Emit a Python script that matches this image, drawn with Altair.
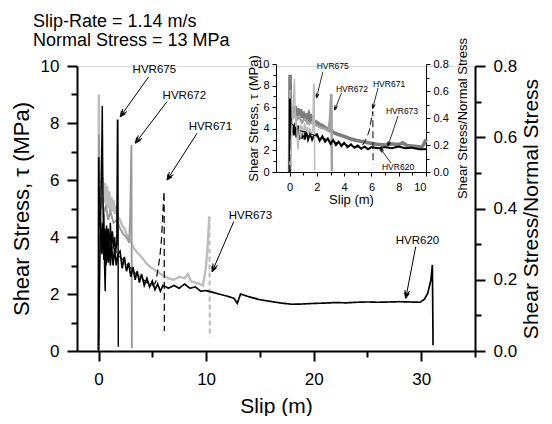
import math
import altair as alt
import pandas as pd

# ---------------- data ----------------
hvr673_x = [0.0, 0.03, 0.06, 0.12, 0.2, 0.3, 0.4, 0.5, 0.6, 0.7, 0.8, 0.9, 1.0, 1.1, 1.2, 1.3,
            1.4, 1.5, 1.6, 1.8, 2.0, 2.2, 2.4, 2.6, 2.8, 3.0, 3.3, 3.6, 4.0, 4.4, 4.8, 5.2, 5.6,
            6.0, 6.5, 7.0, 7.5, 8.0, 8.3, 8.6, 9.0, 9.4, 9.7, 9.85, 10.0, 10.15, 10.3]
hvr673_y = [0.0, 9.0, 6.2, 5.6, 6.0, 5.3, 6.1, 5.2, 5.9, 5.1, 5.8, 5.0, 5.6, 4.9, 5.4, 4.9,
            5.3, 4.8, 5.1, 4.7, 4.6, 4.4, 4.3, 4.1, 4.0, 3.85, 3.6, 3.45, 3.3, 3.1, 2.95, 2.85, 2.75,
            2.65, 2.55, 2.5, 2.6, 2.55, 2.7, 2.45, 2.4, 2.35, 2.3, 2.6, 3.0, 3.7, 4.72]
hvr673_drop_x = [10.3, 10.35]
hvr673_drop_y = [4.72, 0.5]

hvr672_x = [0.0, 0.04, 0.1, 0.2, 0.35, 0.5, 0.7, 0.9, 1.1, 1.4, 1.7, 2.0, 2.3, 2.6, 2.85, 2.95,
            3.02, 3.06, 3.1]
hvr672_y = [0.0, 7.6, 5.5, 5.0, 5.4, 4.8, 5.1, 4.6, 4.9, 4.5, 4.6, 4.3, 4.1, 4.0, 3.8, 4.8,
            6.5, 7.23, 0.1]

hvr620_x = [0.0, 0.02, 0.06, 0.1, 0.2, 0.3, 0.4, 0.5, 0.6, 0.7, 0.8, 0.9, 1.0, 1.1, 1.2, 1.35,
            1.5, 1.65, 1.8, 2.0, 2.2, 2.4, 2.6, 2.8, 3.0, 3.2, 3.4, 3.6, 3.8, 4.0, 4.25, 4.5,
            4.75, 5.0, 5.25, 5.5, 5.75, 6.0, 6.5, 7.0, 7.5, 8.0, 8.5, 9.0, 9.5, 10.0, 11.0,
            12.0, 12.6, 12.9, 13.2, 14.0, 15.0, 16.0, 17.0, 18.0, 19.0, 20.0, 21.0, 22.0, 23.0,
            24.0, 25.0, 26.0, 27.0, 28.0, 29.0, 29.9, 30.3, 30.6, 30.9, 31.04, 31.1]
hvr620_y = [0.0, 6.8, 4.6, 4.9, 4.4, 3.4, 4.5, 3.2, 4.3, 3.0, 4.1, 3.1, 3.9, 3.0, 3.8, 3.0,
            3.6, 3.0, 3.4, 3.5, 2.9, 3.3, 2.8, 3.1, 2.6, 2.95, 2.5, 2.8, 2.4, 2.7, 2.3, 2.55,
            2.25, 2.45, 2.15, 2.35, 2.1, 2.3, 2.2, 2.3, 2.2, 2.35, 2.2, 2.25, 2.1, 2.12, 2.02,
            1.92, 1.85, 1.67, 2.0, 1.9, 1.8, 1.74, 1.68, 1.64, 1.65, 1.67, 1.68, 1.7, 1.69,
            1.71, 1.72, 1.71, 1.72, 1.73, 1.72, 1.71, 1.82, 2.02, 2.49, 3.02, 0.2]

hvr675_x = [0.0, 0.3, 0.35, 0.4, 0.45, 0.5, 0.56, 0.62, 0.68, 0.75, 0.82, 0.9, 1.0, 1.1, 1.2,
            1.3, 1.4, 1.5, 1.6, 1.7, 1.76, 1.8, 1.84]
hvr675_y = [0.2, 7.0, 8.6, 6.0, 4.2, 4.8, 3.0, 2.1, 3.6, 4.4, 3.2, 4.3, 3.4, 4.5, 3.7,
            4.2, 3.6, 4.0, 3.5, 3.8, 8.1, 8.1, 0.15]

hvr671_x = [0.0, 0.03, 0.1, 0.25, 0.5, 0.8, 1.2, 1.6, 2.0, 2.5, 3.0, 3.5, 4.0, 4.5, 5.0, 5.3,
            5.5, 5.7, 5.85, 5.95, 6.05, 6.1, 6.12]
hvr671_y = [0.0, 5.8, 4.6, 4.3, 4.0, 3.8, 3.7, 3.5, 3.3, 3.1, 2.9, 2.7, 2.55, 2.4, 2.3, 2.4,
            2.8, 3.3, 3.9, 4.6, 5.3, 5.6, 0.7]

# keys (drawing order) and styles
keys = ["HVR673", "HVR673 drop", "HVR672", "HVR620", "HVR675", "HVR671"]
main_colors = ["#bdbdbd", "#bdbdbd", "#9a9a9a", "#000000", "#000000", "#000000"]
main_dash = [[1, 0], [5, 3], [1, 0], [1, 0], [1, 0], [7, 4]]
main_width = [2.4, 1.2, 1.3, 3.2, 1.5, 1.5]
inset_colors = ["#7d7d7d", "#7d7d7d", "#a2a2a2", "#000000", "#bcbcbc", "#000000"]
inset_width = [3.6, 1.0, 1.2, 3.0, 1.3, 1.3]

# annotations (data units of each panel)
ann_labels = ["HVR675", "HVR672", "HVR671", "HVR673", "HVR620"]
ann_tx = [5.19, 7.98, 10.4, 14.12, 29.65]
ann_ty = [9.86, 8.95, 7.86, 4.74, 3.86]
ann_x1 = [4.66, 6.37, 9.16, 12.57, 29.49]
ann_y1 = [9.62, 8.75, 7.64, 4.54, 3.66]
ann_x2 = [2.02, 3.42, 6.37, 10.56, 28.56]
ann_y2 = [8.22, 7.29, 6.0, 2.78, 1.85]

ins_tx = [3.16, 4.57, 7.29, 8.24, 7.95]
ins_ty = [9.81, 7.69, 8.15, 5.65, 0.46]
ins_x1 = [2.43, 3.8, 6.48, 7.95, 7.43]
ins_y1 = [9.26, 7.31, 7.78, 5.19, 0.83]
ins_x2 = [1.97, 3.3, 6.09, 7.21, 6.63]
ins_y2 = [6.85, 5.74, 5.88, 2.41, 2.22]

title_lines = ["Slip-Rate = 1.14 m/s", "Normal Stress = 13 MPa"]
stress_ticks = list(range(0, 11))
ratio_ticks = [0.0, 0.1, 0.2, 0.3, 0.4, 0.5, 0.6, 0.7, 0.8]
slip_ticks_main = [0, 5, 10, 15, 20, 25, 30, 35]
slip_ticks_inset = list(range(0, 11))

# ---------------- layout ----------------
W, H = 398, 285
INS_X = [199, 349]      # inset x range (pixels in plot)
INS_Y = [106, -2]       # inset y range
FONT = "Liberation Sans"

series = [("HVR673", hvr673_x, hvr673_y), ("HVR673 drop", hvr673_drop_x, hvr673_drop_y),
          ("HVR672", hvr672_x, hvr672_y), ("HVR620", hvr620_x, hvr620_y),
          ("HVR675", hvr675_x, hvr675_y), ("HVR671", hvr671_x, hvr671_y)]
rows = []
for k, xs, ys in series:
    for i, (x, y) in enumerate(zip(xs, ys)):
        rows.append({"key": k, "i": i, "x": x, "y": y})
curves = pd.DataFrame(rows)


def angles(x1, y1, x2, y2, sx, sy):
    out = []
    for a, b, c, d in zip(x1, y1, x2, y2):
        out.append(math.degrees(math.atan2(-(d - b) * sy, (c - a) * sx)) % 360)
    return out


ann = pd.DataFrame({"label": ann_labels, "tx": ann_tx, "ty": ann_ty, "x1": ann_x1,
                    "y1": ann_y1, "x2": ann_x2, "y2": ann_y2,
                    "ang": angles(ann_x1, ann_y1, ann_x2, ann_y2, W / 37.0, H / 10.0)})
ins = pd.DataFrame({"label": ann_labels, "tx": ins_tx, "ty": ins_ty, "x1": ins_x1,
                    "y1": ins_y1, "x2": ins_x2, "y2": ins_y2,
                    "ang": angles(ins_x1, ins_y1, ins_x2, ins_y2, 150 / 11.0, 108 / 10.0)})


def mx():
    return alt.Scale(domain=[-2, 35], nice=False, zero=False)


def my():
    return alt.Scale(domain=[0, 10], nice=False, zero=False)


def ix():
    return alt.Scale(domain=[-1, 10], nice=False, zero=False, range=INS_X)


def iy():
    return alt.Scale(domain=[0, 10], nice=False, zero=False, range=INS_Y)


main_ax = dict(grid=False, domainColor="black", tickColor="black", labelColor="black",
               titleColor="black", domainWidth=2, tickWidth=2, labelFontSize=17,
               titleFontSize=22, titleFontWeight="normal", labelFont=FONT, titleFont=FONT)
ins_ax = dict(grid=False, domainColor="black", tickColor="black", labelColor="black",
              titleColor="black", domainWidth=1, tickWidth=1, labelFontSize=11,
              titleFontSize=13, titleFontWeight="normal", labelFont=FONT, titleFont=FONT)

arrow_path = "M0,0L-1,-0.45M0,0L-1,0.45M-0.45,0L-1.45,-0.45M-0.45,0L-1.45,0.45"

# ---------------- main panel ----------------
main_lines = alt.Chart(curves).mark_line(strokeCap="butt", strokeJoin="miter").encode(
    x=alt.X("x:Q", scale=mx(), axis=alt.Axis(
        orient="bottom", title="Slip (m)", values=slip_ticks_main,
        labelExpr="datum.value % 10 === 0 ? datum.label : ''",
        tickSize={"condition": {"test": "datum.value % 10 === 0", "value": 10}, "value": 6},
        labelPadding=10, titleBaseline="alphabetic", titleX=W / 2, titleY=61,
        **{**main_ax, "titleFontSize": 21})),
    y=alt.Y("y:Q", scale=my(), axis=alt.Axis(
        orient="left", title="Shear Stress, τ (MPa)", values=stress_ticks,
        labelExpr="datum.value % 2 === 0 ? datum.label : ''",
        tickSize={"condition": {"test": "datum.value % 2 === 0", "value": 10}, "value": 6},
        labelPadding=8, titleAngle=270, titleBaseline="middle", titleAlign="center",
        titleX=-56, titleY=H / 2, **main_ax)),
    detail="key:N",
    order=alt.Order("i:Q"),
    color=alt.Color("key:N", scale=alt.Scale(domain=keys, range=main_colors), legend=None),
    strokeDash=alt.StrokeDash("key:N", scale=alt.Scale(domain=keys, range=main_dash), legend=None),
    strokeWidth=alt.StrokeWidth("key:N", scale=alt.Scale(domain=keys, range=main_width), legend=None),
)

main_right = alt.Chart(pd.DataFrame({"f": ratio_ticks})).mark_point(opacity=0).encode(
    y=alt.Y("f:Q", scale=alt.Scale(domain=[0, 0.8], nice=False, zero=False), axis=alt.Axis(
        orient="right", title="Shear Stress/Normal Stress", values=ratio_ticks, format=".1f",
        labelExpr="round(datum.value * 10) % 2 === 0 ? datum.label : ''",
        tickSize={"condition": {"test": "round(datum.value * 10) % 2 === 0", "value": 10}, "value": 6},
        labelPadding=8, titleAngle=270, titleBaseline="middle", titleAlign="center",
        titleX=56, titleY=H / 2, **{**main_ax, "titleFontSize": 21})),
)

main_text = alt.Chart(ann).mark_text(font=FONT, fontSize=11.5, color="black").encode(
    x=alt.X("tx:Q", scale=mx(), axis=None), y=alt.Y("ty:Q", scale=my(), axis=None), text="label:N")
main_rule = alt.Chart(ann).mark_rule(color="black", strokeWidth=1).encode(
    x=alt.X("x1:Q", scale=mx(), axis=None), y=alt.Y("y1:Q", scale=my(), axis=None),
    x2="x2:Q", y2="y2:Q")
main_head = alt.Chart(ann).mark_point(shape=arrow_path, size=120, filled=False, color="black",
                                      strokeWidth=1, opacity=1).encode(
    x=alt.X("x2:Q", scale=mx(), axis=None), y=alt.Y("y2:Q", scale=my(), axis=None),
    angle=alt.Angle("ang:Q", scale=None))

# ---------------- inset ----------------
inset_lines = alt.Chart(curves).transform_filter(
    "datum.x <= 10 && datum.key != 'HVR673 drop'").mark_line(strokeCap="butt").encode(
    x=alt.X("x:Q", scale=ix(), axis=alt.Axis(
        orient="bottom", offset=INS_Y[0] - H, title="Slip (m)", values=slip_ticks_inset,
        labelExpr="datum.value % 2 === 0 ? datum.label : ''",
        tickSize={"condition": {"test": "datum.value % 2 === 0", "value": 4}, "value": 3},
        labelPadding=5, titleBaseline="alphabetic", titleX=(INS_X[0] + INS_X[1]) / 2,
        titleY=31, **ins_ax)),
    y=alt.Y("y:Q", scale=iy(), axis=alt.Axis(
        orient="left", offset=-INS_X[0], title="Shear Stress, τ (MPa)", values=stress_ticks,
        labelExpr="datum.value % 2 === 0 ? datum.label : ''",
        tickSize={"condition": {"test": "datum.value % 2 === 0", "value": 4}, "value": 3},
        labelPadding=3, titleAngle=270, titleBaseline="middle", titleAlign="center",
        titleX=-23, titleY=(INS_Y[0] + INS_Y[1]) / 2, **ins_ax)),
    detail="key:N",
    order=alt.Order("i:Q"),
    color=alt.Color("key:N", scale=alt.Scale(domain=keys, range=inset_colors), legend=None),
    strokeDash=alt.StrokeDash("key:N", scale=alt.Scale(domain=keys, range=main_dash), legend=None),
    strokeWidth=alt.StrokeWidth("key:N", scale=alt.Scale(domain=keys, range=inset_width), legend=None),
)

inset_right = alt.Chart(pd.DataFrame({"f": ratio_ticks})).mark_point(opacity=0).encode(
    y=alt.Y("f:Q", scale=alt.Scale(domain=[0, 0.8], nice=False, zero=False, range=INS_Y),
            axis=alt.Axis(
                orient="right", offset=INS_X[1] - W, title="Shear Stress/Normal Stress",
                values=ratio_ticks, format=".1f",
                labelExpr="round(datum.value * 10) % 2 === 0 ? datum.label : ''",
                tickSize={"condition": {"test": "round(datum.value * 10) % 2 === 0", "value": 4},
                          "value": 3},
                labelPadding=3, titleAngle=270, titleBaseline="middle", titleAlign="center",
                titleX=36, titleY=(INS_Y[0] + INS_Y[1]) / 2, **ins_ax)),
)

inset_text = alt.Chart(ins).mark_text(font=FONT, fontSize=8.5, color="black").encode(
    x=alt.X("tx:Q", scale=ix(), axis=None), y=alt.Y("ty:Q", scale=iy(), axis=None), text="label:N")
inset_rule = alt.Chart(ins).mark_rule(color="black", strokeWidth=0.8).encode(
    x=alt.X("x1:Q", scale=ix(), axis=None), y=alt.Y("y1:Q", scale=iy(), axis=None),
    x2="x2:Q", y2="y2:Q")
inset_head = alt.Chart(ins).mark_point(shape=arrow_path, size=40, filled=False, color="black",
                                       strokeWidth=0.8, opacity=1).encode(
    x=alt.X("x2:Q", scale=ix(), axis=None), y=alt.Y("y2:Q", scale=iy(), axis=None),
    angle=alt.Angle("ang:Q", scale=None))

# ---------------- header text ----------------
t1 = alt.Chart(pd.DataFrame({"t": [title_lines[0]]})).mark_text(
    font=FONT, fontSize=18, align="left", baseline="alphabetic", color="black").encode(
    x=alt.value(-44), y=alt.value(-39), text="t:N")
t2 = alt.Chart(pd.DataFrame({"t": [title_lines[1]]})).mark_text(
    font=FONT, fontSize=18, align="left", baseline="alphabetic", color="black").encode(
    x=alt.value(-44), y=alt.value(-20), text="t:N")

chart = alt.layer(
    main_lines, main_right, main_text, main_rule, main_head,
    inset_lines, inset_right, inset_text, inset_rule, inset_head, t1, t2,
).resolve_scale(
    x="independent", y="independent", color="independent",
    strokeDash="independent", strokeWidth="independent",
).properties(
    width=W, height=H,
    padding={"left": 69, "top": 58, "right": 69, "bottom": 65},
    autosize=alt.AutoSizeParams(type="none"),
).configure_view(strokeWidth=0).configure(font=FONT)

chart.save("out.html", embed_options={"renderer": "svg", "actions": False})
